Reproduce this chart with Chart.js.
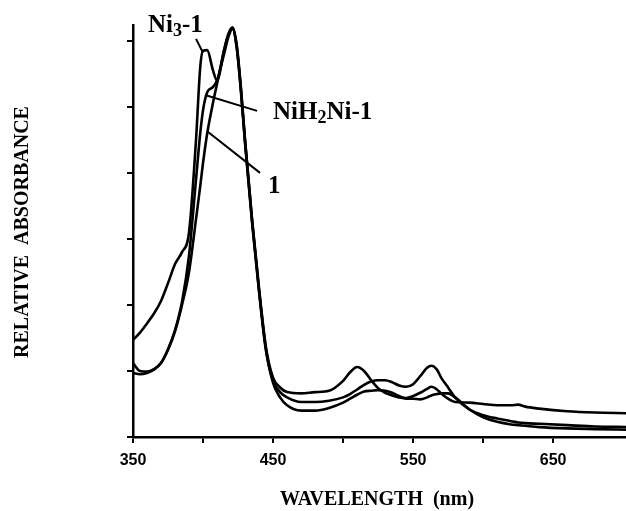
<!DOCTYPE html>
<html>
<head>
<meta charset="utf-8">
<script src="https://cdn.jsdelivr.net/npm/chart.js@4.4.1/dist/chart.umd.min.js"></script>
<style>
  html, body { margin: 0; padding: 0; background: #fff; }
  #wrap { width: 626px; height: 511px; position: relative; }
</style>
</head>
<body>
<div id="wrap"><canvas id="chart"></canvas></div>
<script>
// wavelengths (nm) shared by all three spectra
const wavelengths = [350, 355, 360, 365, 370, 375, 380, 385, 390, 395, 398, 400, 403, 407, 410, 415, 418, 421, 424, 427, 430, 435, 440, 445, 450, 455, 460, 470, 480, 490, 500, 505, 510, 515, 520, 525, 530, 535, 540, 545, 550, 555, 560, 563, 567, 570, 575, 580, 590, 600, 610, 620, 625, 630, 640, 660, 680, 702];

// relative absorbance
const ni3Values = [1.47, 1.58, 1.72, 1.87, 2.06, 2.33, 2.62, 2.80, 3.10, 4.50, 5.60, 5.85, 5.86, 5.56, 5.40, 5.86, 6.10, 6.20, 5.90, 5.25, 4.45, 3.25, 2.20, 1.30, 0.85, 0.68, 0.60, 0.53, 0.53, 0.55, 0.60, 0.65, 0.72, 0.79, 0.84, 0.86, 0.86, 0.83, 0.78, 0.76, 0.80, 0.92, 1.05, 1.08, 1.02, 0.90, 0.75, 0.60, 0.42, 0.33, 0.28, 0.24, 0.22, 0.21, 0.20, 0.18, 0.16, 0.15];
const niH2NiValues = [0.97, 0.95, 0.97, 1.02, 1.12, 1.33, 1.62, 2.05, 2.75, 3.90, 4.60, 4.95, 5.22, 5.30, 5.40, 5.80, 6.05, 6.18, 5.92, 5.28, 4.48, 3.28, 2.22, 1.32, 0.82, 0.60, 0.48, 0.40, 0.40, 0.44, 0.52, 0.58, 0.64, 0.69, 0.70, 0.71, 0.70, 0.67, 0.62, 0.58, 0.58, 0.57, 0.60, 0.63, 0.65, 0.66, 0.66, 0.60, 0.42, 0.30, 0.23, 0.19, 0.18, 0.17, 0.15, 0.13, 0.12, 0.11];
const freeBaseValues = [1.12, 1.00, 0.99, 1.03, 1.12, 1.32, 1.60, 2.00, 2.50, 3.30, 3.80, 4.15, 4.60, 5.05, 5.35, 5.85, 6.08, 6.20, 5.95, 5.30, 4.50, 3.30, 2.25, 1.35, 0.90, 0.75, 0.68, 0.66, 0.68, 0.70, 0.85, 0.98, 1.06, 1.00, 0.86, 0.74, 0.67, 0.63, 0.60, 0.59, 0.62, 0.67, 0.73, 0.76, 0.72, 0.66, 0.58, 0.53, 0.52, 0.50, 0.48, 0.48, 0.49, 0.46, 0.43, 0.39, 0.37, 0.36];

const xTicks = [350, 400, 450, 500, 550, 600, 650];
const xTickLabels = ['350', '', '450', '', '550', '', '650'];
const yTicks = [0, 1, 2, 3, 4, 5, 6];

// curve labels with leader lines, in data units
const curveLabels = [
    { parts: [['Ni'], ['3', true], ['-1']], x: 360.7, y: 6.14, from: [395, 6.03], to: [400, 5.82] },
    { parts: [['NiH'], ['2', true], ['Ni-1']], x: 450, y: 4.82, from: [438.6, 4.94], to: [401.4, 5.18] },
    { parts: [['1']], x: 446.4, y: 3.7, from: [440.7, 4.0], to: [403.6, 4.62] }
];

const pts = vals => wavelengths.map((w, i) => ({ x: w, y: vals[i] }));

const serif = '"Liberation Serif", "Times New Roman", serif';

const labelPlugin = {
    id: 'curveLabels',
    afterDraw(chart) {
        const ctx = chart.ctx;
        const xs = chart.scales.x, ys = chart.scales.y;
        ctx.save();
        ctx.strokeStyle = '#000';
        ctx.fillStyle = '#000';
        ctx.lineWidth = 2;
        curveLabels.forEach(l => {
            ctx.beginPath();
            ctx.moveTo(xs.getPixelForValue(l.from[0]), ys.getPixelForValue(l.from[1]));
            ctx.lineTo(xs.getPixelForValue(l.to[0]), ys.getPixelForValue(l.to[1]));
            ctx.stroke();
            let px = xs.getPixelForValue(l.x);
            const py = ys.getPixelForValue(l.y);
            ctx.textBaseline = 'alphabetic';
            ctx.textAlign = 'left';
            l.parts.forEach(([t, sub]) => {
                ctx.font = sub ? 'bold 18px ' + serif : 'bold 25px ' + serif;
                ctx.fillText(t, px, py + (sub ? 4 : 0));
                px += ctx.measureText(t).width;
            });
        });
        // axis titles
        ctx.font = 'bold 20px ' + serif;
        ctx.textAlign = 'center';
        ctx.textBaseline = 'middle';
        ctx.fillText('WAVELENGTH  (nm)', 377, 500);
        ctx.translate(23, 232);
        ctx.rotate(-Math.PI / 2);
        ctx.fillText('RELATIVE  ABSORBANCE', 0, 0);
        ctx.restore();
    }
};

const line = (label, vals) => ({
    label,
    data: pts(vals),
    borderColor: '#000',
    borderWidth: 2.6,
    pointRadius: 0,
    fill: false,
    cubicInterpolationMode: 'monotone'
});

new Chart(document.getElementById('chart'), {
    type: 'line',
    data: {
        datasets: [
            line('Ni3-1', ni3Values),
            line('NiH2Ni-1', niH2NiValues),
            line('1', freeBaseValues)
        ]
    },
    options: {
        responsive: true,
        maintainAspectRatio: false,
        animation: false,
        layout: { padding: { top: 25, right: 0, left: 0, bottom: 0 } },
        plugins: { legend: { display: false }, tooltip: { enabled: false } },
        scales: {
            x: {
                type: 'linear',
                min: 350,
                max: 702,
                afterFit: s => { s.height = 74; },
                afterBuildTicks: s => { s.ticks = xTicks.map(v => ({ value: v })); },
                border: { color: '#000', width: 2.5 },
                grid: { drawOnChartArea: false, drawTicks: true, tickLength: 6, color: '#000', lineWidth: 2 },
                ticks: {
                    maxRotation: 0,
                    autoSkip: false,
                    padding: 8,
                    color: '#000',
                    font: { family: '"Liberation Sans", Arial, sans-serif', weight: 'bold', size: 16 },
                    callback: (v, i) => xTickLabels[i]
                }
            },
            y: {
                min: 0,
                max: 6.24,
                afterFit: s => { s.width = 133; },
                afterBuildTicks: s => { s.ticks = yTicks.map(v => ({ value: v })); },
                border: { color: '#000', width: 2.5 },
                grid: { drawOnChartArea: false, drawTicks: true, tickLength: 6, color: '#000', lineWidth: 2 },
                ticks: { display: false }
            }
        }
    },
    plugins: [labelPlugin]
});
</script>
</body>
</html>
